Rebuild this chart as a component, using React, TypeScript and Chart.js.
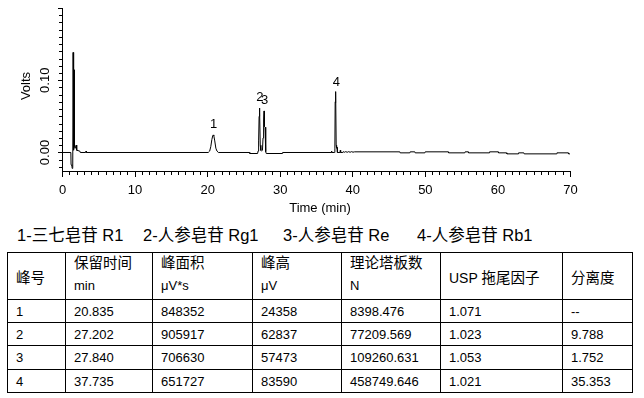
import React, { useEffect, useRef } from "react";
import { Chart, registerables } from "chart.js";

Chart.register(...registerables);

// ---- Chromatogram trace ----
const traceTimeMin = [
  0, 1.22, 1.25, 1.36, 1.4, 1.48, 1.53, 1.58, 1.62, 1.66, 1.71, 1.8, 1.9, 1.96, 2.03, 2.45, 2.52, 3.26, 3.31, 3.37,
  20.15, 20.35, 20.5, 20.65, 20.78, 20.84, 20.92, 21.05, 21.2, 21.35, 21.55,
  25.85, 25.88, 26.95, 27.02, 27.07, 27.12, 27.16, 27.2, 27.26, 27.32, 27.4, 27.5, 27.62, 27.7, 27.78, 27.84, 27.9, 27.98, 28.04, 28.1, 28.15, 30.35, 30.4,
  37.1, 37.14, 37.18, 37.55, 37.6, 37.64, 37.68, 37.735, 37.78, 37.84, 37.9, 37.95, 38.3, 38.35, 38.4,
  38.7, 38.75, 38.9, 39.1, 39.3, 39.5, 39.7, 39.9, 40.1, 40.3,
  46.55, 46.6, 47.93, 47.98, 48.62, 48.67, 50.0, 50.05, 53.22, 53.27, 55.5, 55.55, 55.97, 56.02, 58.87, 58.92,
  60.1, 60.15, 61.26, 61.31, 62.86, 62.91, 63.64, 63.69, 68.15, 68.2, 69.75, 69.8, 70,
];
const traceVolts = [
  0, 0, -0.017, -0.018, -0.022, -0.021, 0.1385, 0.003, 0.004, 0.1144, 0.008, 0.0057, 0.0057, 0.0103, 0.003, 0.002, 0, 0, 0.002, 0,
  0, 0.002, 0.008, 0.018, 0.0235, 0.0243, 0.0232, 0.016, 0.006, 0.002, 0,
  0, -0.0014, -0.0014, 0.002, 0.015, 0.016, 0.05, 0.0615, 0.055, 0.01, 0.003, 0.002, 0.003, 0.02, 0.045, 0.0575, 0.036, 0.035, 0.006, 0.001, -0.0014, -0.0014, 0,
  0, 0.002, 0, 0, 0.005, 0.07, 0.069, 0.0843, 0.01, 0.006, 0.007, 0, 0, 0.003, 0,
  0, 0.0012, 0.0003, 0.0012, 0.0003, 0.0012, 0.0003, 0.0012, 0.0004, 0.0009,
  0.0009, -0.0005, -0.0005, 0.0009, 0.0009, -0.0005, -0.0005, 0.0009, 0.0009, -0.0005, -0.0005, 0.0009, 0.0009, -0.0005, -0.0005, 0.0009,
  0.0009, -0.0005, -0.0005, -0.0019, -0.0019, -0.0005, -0.0005, -0.0019, -0.0019, -0.0005, -0.0005, -0.0019, -0.0019,
];

// ---- Axis ----
const xMin = 0;
const xMax = 70;
const yMin = -0.027;
const yMax = 0.2;
const xTickLabels = ["0", "10", "20", "30", "40", "50", "60", "70"];
const yTickLabels = ["0.00", "0.10"];
const xTitle = "Time (min)";
const yTitle = "Volts";

// ---- Peaks / table ----
const peakIds = ["1", "2", "3", "4"];
const peakNames = ["三七皂苷 R1", "人参皂苷 Rg1", "人参皂苷 Re", "人参皂苷 Rb1"];
const retentionTimes = ["20.835", "27.202", "27.840", "37.735"];
const peakAreas = ["848352", "905917", "706630", "651727"];
const peakHeightsUV = ["24358", "62837", "57473", "83590"];
const plateCounts = ["8398.476", "77209.569", "109260.631", "458749.646"];
const tailingFactors = ["1.071", "1.023", "1.053", "1.021"];
const resolutions = ["--", "9.788", "1.752", "35.353"];
const headerTop = ["峰号", "保留时间", "峰面积", "峰高", "理论塔板数", "USP 拖尾因子", "分离度"];
const headerUnit = ["", "min", "μV*s", "μV", "N", "", ""];

// layout (not data)
const legendLefts = [17, 143, 283, 417];
const colWidths = [58, 87, 100, 89, 99, 122, 70];

const FONT = '"Liberation Sans", Arial, sans-serif';
const CJK = '"Liberation Sans", "Noto Sans CJK SC", sans-serif';

const axesPlugin = {
  id: "chromAxes",
  afterDraw(chart: any) {
    const { ctx, chartArea: a } = chart;
    const x = chart.scales.x;
    const y = chart.scales.y;
    ctx.save();
    ctx.fillStyle = "#000";
    const top = Math.round(y.getPixelForValue(yMax));
    ctx.fillRect(a.left, top, 1, a.bottom - top);
    ctx.fillRect(a.left, a.bottom - 1, a.right - a.left + 1, 1);
    for (let m = xMin; m <= xMax; m += 1) {
      const px = Math.round(x.getPixelForValue(m));
      ctx.fillRect(px, a.bottom, 1, m % 10 === 0 ? 5 : 3);
    }
    for (let k = -2; k <= 20; k++) {
      const py = Math.round(y.getPixelForValue(k / 100));
      const len = k % 10 === 0 ? 4 : 3;
      ctx.fillRect(a.left - len, py, len, 1);
    }
    ctx.font = `13px ${FONT}`;
    ctx.textAlign = "center";
    ctx.textBaseline = "alphabetic";
    xTickLabels.forEach((lab) => {
      const px = x.getPixelForValue(Number(lab));
      ctx.fillText(lab, px + 0.5, a.bottom + 21.5);
    });
    ctx.fillText(xTitle, (a.left + a.right) / 2 + 4, a.bottom + 39.5);
    yTickLabels.forEach((lab) => {
      const py = y.getPixelForValue(Number(lab));
      ctx.save();
      ctx.translate(a.left - 13.5, py);
      ctx.rotate(-Math.PI / 2);
      ctx.fillText(lab, 0, 0);
      ctx.restore();
    });
    ctx.save();
    ctx.translate(a.left - 32, (a.top + a.bottom) / 2 - 4);
    ctx.rotate(-Math.PI / 2);
    ctx.fillText(yTitle, 0, 0);
    ctx.restore();
    peakIds.forEach((id, i) => {
      const px = x.getPixelForValue(Number(retentionTimes[i]));
      const py = y.getPixelForValue(Number(peakHeightsUV[i]) / 1e6);
      ctx.fillText(id, px + 0.5, py - 6.5);
    });
    ctx.restore();
  },
};

function ChromChart() {
  const ref = useRef<HTMLCanvasElement>(null);
  useEffect(() => {
    if (!ref.current) return;
    const data = traceTimeMin.map((t, i) => ({ x: t, y: traceVolts[i] }));
    const chart = new Chart(ref.current, {
      type: "line",
      data: {
        datasets: [
          {
            data,
            borderColor: "#000",
            borderWidth: 1,
            pointRadius: 0,
            tension: 0,
            fill: false,
          },
        ],
      },
      options: {
        responsive: false,
        animation: false,
        events: [],
        layout: { padding: { left: 62, right: 74, top: 8, bottom: 48 } },
        plugins: { legend: { display: false }, tooltip: { enabled: false } },
        scales: {
          x: { type: "linear", min: xMin, max: xMax, display: false },
          y: { type: "linear", min: yMin, max: yMax, display: false },
        },
      },
      plugins: [axesPlugin],
    } as any);
    return () => chart.destroy();
  }, []);
  return <canvas ref={ref} width={644} height={220} style={{ position: "absolute", left: 0, top: 0 }} />;
}

function cjk(text: string, size: number) {
  const parts = text.split(/([\u4e00-\u9fff]+)/);
  return parts.map((p, i) =>
    /[\u4e00-\u9fff]/.test(p) ? (
      <span key={i} style={{ fontSize: size }}>{p}</span>
    ) : (
      <span key={i}>{p}</span>
    )
  );
}

export default function App() {
  const cell: React.CSSProperties = {
    border: "1px solid #000",
    padding: "0 0 0 8px",
    textAlign: "left",
    whiteSpace: "nowrap",
    overflow: "hidden",
  };
  return (
    <div style={{ position: "absolute", left: 0, top: 0, width: 644, height: 398, background: "#fff", color: "#000" }}>
      <ChromChart />
      {peakIds.map((id, i) => (
        <div
          key={id}
          style={{
            position: "absolute",
            left: legendLefts[i],
            top: 226,
            fontFamily: CJK,
            fontSize: 16.5,
            lineHeight: "18px",
            whiteSpace: "nowrap",
          }}
        >
          {`${id}-${peakNames[i]}`}
        </div>
      ))}
      <table
        style={{
          position: "absolute",
          left: 7,
          top: 252,
          borderCollapse: "collapse",
          tableLayout: "fixed",
          width: 626,
          fontFamily: CJK,
          fontSize: 13,
        }}
      >
        <colgroup>
          {colWidths.map((w, i) => (
            <col key={i} style={{ width: w }} />
          ))}
        </colgroup>
        <tbody>
          <tr style={{ height: 47 }}>
            {headerTop.map((h, i) =>
              headerUnit[i] ? (
                <td key={i} style={{ ...cell, verticalAlign: "top" }}>
                  <div style={{ height: 21, lineHeight: "21px" }}>{cjk(h, 14.5)}</div>
                  <div style={{ height: 24, lineHeight: "24px" }}>{headerUnit[i]}</div>
                </td>
              ) : (
                <td key={i} style={{ ...cell, verticalAlign: "middle", fontSize: 14 }}>
                  {cjk(h, 14.5)}
                </td>
              )
            )}
          </tr>
          {peakIds.map((id, i) => (
            <tr key={id} style={{ height: i === 2 ? 24 : 23 }}>
              {[id, retentionTimes[i], peakAreas[i], peakHeightsUV[i], plateCounts[i], tailingFactors[i], resolutions[i]].map(
                (v, j) => (
                  <td key={j} style={{ ...cell, verticalAlign: "middle" }}>
                    {v}
                  </td>
                )
              )}
            </tr>
          ))}
        </tbody>
      </table>
    </div>
  );
}
